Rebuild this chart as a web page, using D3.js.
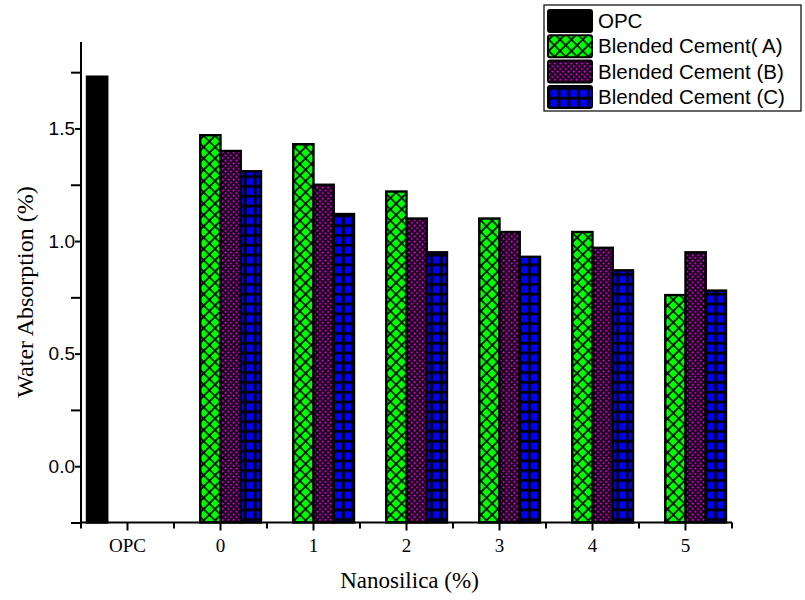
<!DOCTYPE html>
<html>
<head>
<meta charset="utf-8">
<script src="https://cdn.jsdelivr.net/npm/d3@7"></script>
<style>
  body { margin: 0; background: #fff; }
  svg { display: block; }
</style>
</head>
<body>
<svg width="805" height="600"></svg>
<script>
const categories = ["OPC", "0", "1", "2", "3", "4", "5"];
const seriesNames = ["OPC", "Blended Cement( A)", "Blended Cement (B)", "Blended Cement (C)"];
const opcValues = [1.73, null, null, null, null, null, null];
const cementA = [null, 1.47, 1.43, 1.22, 1.10, 1.04, 0.76];
const cementB = [null, 1.40, 1.25, 1.10, 1.04, 0.97, 0.95];
const cementC = [null, 1.31, 1.12, 0.95, 0.93, 0.87, 0.78];
const yMajor = [0.0, 0.5, 1.0, 1.5];
const yMinor = [-0.25, 0.25, 0.75, 1.25, 1.75];

let svg = d3.select("svg");
let allSeries = [opcValues, cementA, cementB, cementC];
let fills = ["#000", "url(#patA)", "url(#patB)", "url(#patC)"];

let plotLeft = 81, plotRight = 732, plotTop = 42, plotBottom = 522.5;

let x0 = d3.scaleBand().domain(categories).range([plotLeft, plotRight]).padding(0);
let x1 = d3.scaleBand().domain(seriesNames).range([6, x0.bandwidth() - 6]).padding(0);
let y = d3.scaleLinear().domain([-0.25, 1.884]).range([plotBottom, plotTop]);

// patterns
let defs = svg.append("defs");
let pA = defs.append("pattern").attr("id", "patA").attr("patternUnits", "userSpaceOnUse")
  .attr("width", 8).attr("height", 8).attr("patternTransform", "rotate(45)");
pA.append("rect").attr("width", 8).attr("height", 8).attr("fill", "#00ff00");
pA.append("path").attr("d", "M0,0 H8 M0,0 V8 M0,8 H8 M8,0 V8")
  .attr("stroke", "#000").attr("stroke-width", 1.7);

let pB = defs.append("pattern").attr("id", "patB").attr("patternUnits", "userSpaceOnUse")
  .attr("width", 5.4).attr("height", 5.4);
pB.append("rect").attr("width", 5.4).attr("height", 5.4).attr("fill", "#0a000a");
pB.append("rect").attr("x", 0.5).attr("y", 0.5).attr("width", 1.8).attr("height", 1.8).attr("fill", "#ff00ff");
pB.append("rect").attr("x", 3.2).attr("y", 3.2).attr("width", 1.8).attr("height", 1.8).attr("fill", "#ff00ff");

let pC = defs.append("pattern").attr("id", "patC").attr("patternUnits", "userSpaceOnUse")
  .attr("width", 9.8).attr("height", 9.8);
pC.append("rect").attr("width", 9.8).attr("height", 9.8).attr("fill", "#000");
pC.append("rect").attr("x", 1.6).attr("y", 1.6).attr("width", 7).attr("height", 7).attr("fill", "#0000ff");

// bars
let g = svg.append("g");
allSeries.forEach((vals, si) => {
  vals.forEach((v, ci) => {
    if (v === null) return;
    let bx = x0(categories[ci]) + x1(seriesNames[si]);
    g.append("rect")
      .attr("x", bx)
      .attr("y", y(v))
      .attr("width", x1.bandwidth())
      .attr("height", y(-0.25) - y(v))
      .attr("fill", fills[si])
      .attr("stroke", "#000")
      .attr("stroke-width", 2.4);
  });
});

// y axis
let yAxis = svg.append("g").attr("transform", "translate(" + plotLeft + ",0)")
  .call(d3.axisLeft(y).tickValues(yMajor).tickSize(6).tickPadding(0).tickFormat(d3.format(".1f")));
yAxis.select(".domain").remove();
yAxis.selectAll("text").attr("font-family", "Liberation Sans, Arial, sans-serif").attr("font-size", 19).attr("fill", "#000");
yAxis.selectAll("line").attr("stroke-width", 2);

let yMinorAxis = svg.append("g").attr("transform", "translate(" + plotLeft + ",0)")
  .call(d3.axisLeft(y).tickValues(yMinor).tickSize(10).tickFormat(""));
yMinorAxis.select(".domain").remove();
yMinorAxis.selectAll("line").attr("stroke-width", 2);

svg.append("line").attr("x1", plotLeft).attr("x2", plotLeft).attr("y1", plotTop).attr("y2", plotBottom)
  .attr("stroke", "#000").attr("stroke-width", 2);

// x axis
let xAxis = svg.append("g").attr("transform", "translate(0," + plotBottom + ")")
  .call(d3.axisBottom(x0).tickSize(8).tickPadding(8));
xAxis.select(".domain").remove();
xAxis.selectAll("text").attr("font-family", "Liberation Serif, Times New Roman, serif").attr("font-size", 19).attr("fill", "#000");
xAxis.selectAll("line").attr("stroke-width", 2);

let bounds = categories.map(c => x0(c)).concat([plotRight]);
svg.append("g").selectAll("line").data(bounds).join("line")
  .attr("x1", d => d).attr("x2", d => d)
  .attr("y1", plotBottom).attr("y2", plotBottom + 6)
  .attr("stroke", "#000").attr("stroke-width", 2);

svg.append("line").attr("x1", plotLeft).attr("x2", plotRight).attr("y1", plotBottom).attr("y2", plotBottom)
  .attr("stroke", "#000").attr("stroke-width", 2);

// titles
svg.append("text")
  .attr("x", (plotLeft + plotRight) / 2 + 3).attr("y", 588)
  .attr("text-anchor", "middle")
  .attr("font-family", "Liberation Serif, Times New Roman, serif")
  .attr("font-size", 23)
  .text("Nanosilica (%)");

svg.append("text")
  .attr("transform", "translate(33,292) rotate(-90)")
  .attr("text-anchor", "middle")
  .attr("font-family", "Liberation Serif, Times New Roman, serif")
  .attr("font-size", 24)
  .text("Water Absorption (%)");

// legend
let legend = svg.append("g");
legend.append("rect").attr("x", 544).attr("y", 5).attr("width", 257).attr("height", 106)
  .attr("fill", "#fff").attr("stroke", "#000").attr("stroke-width", 1.2);
seriesNames.forEach((name, i) => {
  let ly = 10 + i * 25.3;
  legend.append("rect").attr("x", 548).attr("y", ly).attr("width", 44).attr("height", 22)
    .attr("rx", 2).attr("fill", fills[i]).attr("stroke", "#000").attr("stroke-width", 2);
  legend.append("text").attr("x", 598).attr("y", ly + 18)
    .attr("font-family", "Liberation Sans, Arial, sans-serif").attr("font-size", 20.5)
    .text(name);
});
</script>
</body>
</html>
